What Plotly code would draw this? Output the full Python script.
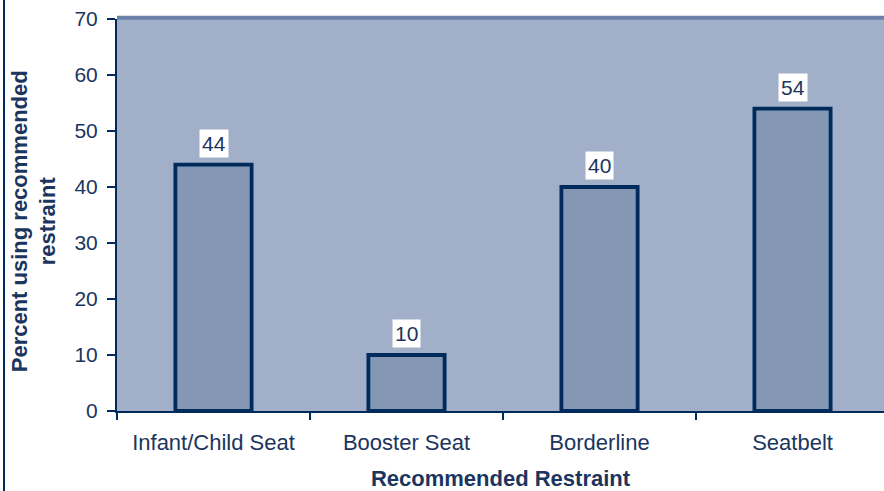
import plotly.graph_objects as go

# Share of children using the restraint recommended for their size
categories = ["Infant/Child Seat", "Booster Seat", "Borderline", "Seatbelt"]
percent_using = [44, 10, 40, 54]
y_ticks = [0, 10, 20, 30, 40, 50, 60, 70]

NAVY = "#002a5c"
TEXT = "#1b355e"
PLOT_BG = "#a1b0c8"
BAR_FILL = "#8497b5"
FONT = "Liberation Sans, Arial, sans-serif"

fig = go.Figure()
fig.add_trace(go.Bar(
    x=categories,
    y=percent_using,
    width=0.395,
    marker=dict(color=BAR_FILL, line=dict(color=NAVY, width=3.8)),
    hoverinfo="skip",
))

# value labels in white boxes above each bar
for cat, val in zip(categories, percent_using):
    fig.add_annotation(
        x=cat, y=val, text=str(val), showarrow=False,
        yanchor="bottom", yshift=7,
        font=dict(family=FONT, size=21, color=TEXT),
        bgcolor="white", borderpad=2,
    )

# rotated two-line y title
fig.add_annotation(
    xref="paper", yref="paper", x=-0.109, y=0.485,
    text="<b>Percent using recommended<br>restraint</b>",
    textangle=-90, showarrow=False,
    font=dict(family=FONT, size=22, color=TEXT),
    xanchor="center", yanchor="middle",
)

# top edge of the plot frame
fig.add_shape(type="line", xref="paper", yref="paper", x0=0, x1=1.01, y0=1.003, y1=1.003,
              line=dict(color="#6a80a6", width=4))
# outer left border of the chart
fig.add_shape(type="line", xref="paper", yref="paper", x0=-0.1473, x1=-0.1473, y0=-0.21, y1=1.05,
              line=dict(color=NAVY, width=2))

fig.update_layout(
    width=884, height=491,
    margin=dict(l=117, r=0, t=19, b=80),
    paper_bgcolor="white",
    plot_bgcolor=PLOT_BG,
    showlegend=False,
    font=dict(family=FONT, color=TEXT),
    xaxis=dict(
        range=[-0.5, 3.474],
        tickson="boundaries", ticks="outside", ticklen=7, tickwidth=2, tickcolor=NAVY,
        showline=True, linecolor=NAVY, linewidth=2,
        showgrid=False, zeroline=False,
        tickfont=dict(family=FONT, size=22, color=TEXT),
        ticklabelstandoff=11,
        title=dict(text="<b>Recommended Restraint</b>", standoff=20,
                   font=dict(family=FONT, size=22, color=TEXT)),
    ),
    yaxis=dict(
        range=[0, 70], tickvals=y_ticks,
        ticks="outside", ticklen=8, tickwidth=2, tickcolor=NAVY,
        showline=True, linecolor=NAVY, linewidth=2,
        showgrid=False, zeroline=False,
        tickfont=dict(family=FONT, size=21, color=TEXT),
        ticklabelstandoff=5,
    ),
)

fig.write_html("out.html")
